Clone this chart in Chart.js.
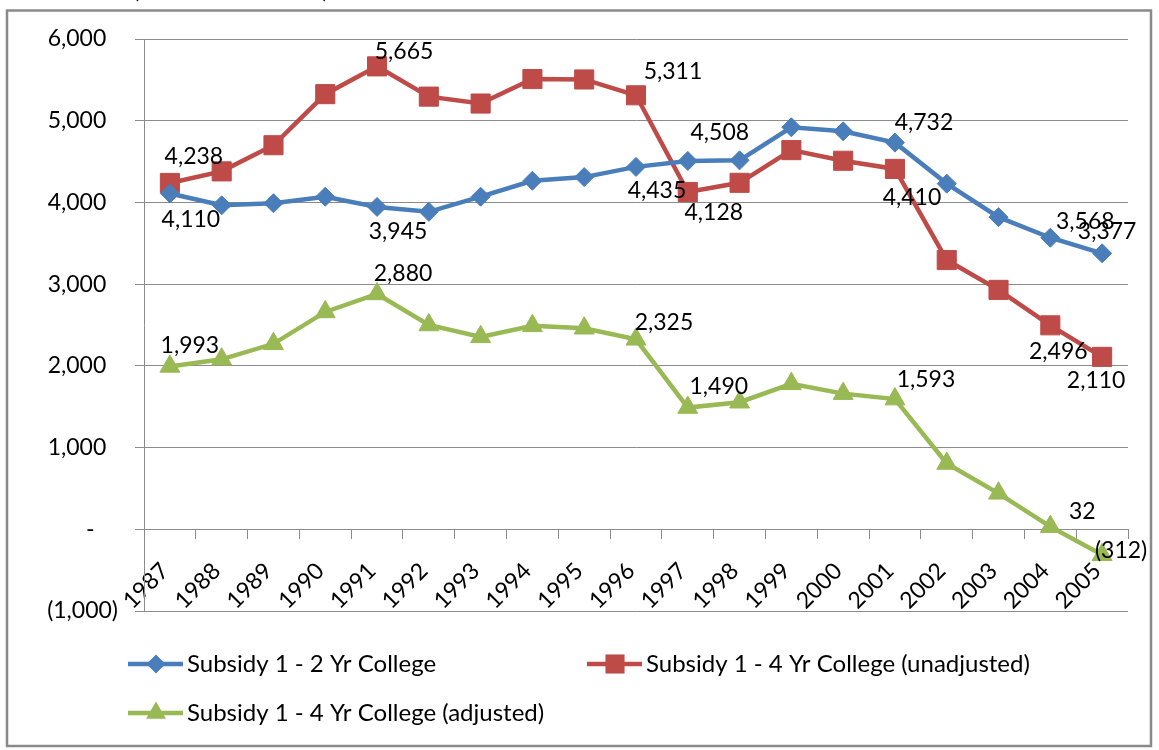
<!DOCTYPE html>
<html>
<head>
<meta charset="utf-8">
<script src="https://cdn.jsdelivr.net/npm/chart.js@4/dist/chart.umd.min.js"></script>
<style>
html,body{margin:0;padding:0;background:#fff;overflow:hidden}
canvas{display:block}
</style>
</head>
<body>
<canvas id="c" width="1159" height="750"></canvas>
<script>
// ---------- data ----------
const years = ['1987','1988','1989','1990','1991','1992','1993','1994','1995','1996','1997','1998','1999','2000','2001','2002','2003','2004','2005'];
const subsidy2Yr = [4110,3965,3990,4070,3945,3885,4070,4265,4310,4435,4508,4515,4920,4870,4732,4230,3820,3568,3377];
const subsidy4YrUnadj = [4238,4380,4700,5325,5665,5295,5210,5510,5505,5311,4128,4240,4640,4510,4410,3295,2930,2496,2110];
const subsidy4YrAdj = [1993,2080,2270,2660,2880,2500,2355,2490,2460,2325,1490,1555,1780,1660,1593,805,440,32,-312];
const seriesNames = ['Subsidy 1 - 2 Yr College','Subsidy 1 - 4 Yr College (unadjusted)','Subsidy 1 - 4 Yr College (adjusted)'];
const yMin = -1000, yMax = 6000, yStep = 1000;
const labeledIdx = [0,4,9,10,14,17,18];
const titleText = '(in constant dollars)';

// ---------- styles ----------
const FONT = 'Lato';
const BLUE = '#4A7EBB', RED = '#BE4B48', GREEN = '#98B954';
const GRID = '#8c8c8c';
const labelOffsets = [
  [[21,26],[21,25],[21,24],[32,-28],[29,-20],[35,-16],[5,-22]],
  [[24,-26],[27,-15],[37,-24],[26,21],[17,29],[8,26],[-6,24]],
  [[20,-21],[26,-20],[28,-17],[31,-21],[31,-20],[32,-15],[19,-4]]
];
const legendPos = [[128,664],[587,664],[128,713]];

const fmtNum = v => Math.abs(v).toLocaleString('en-US');
const fmtLabel = v => v < 0 ? '(' + fmtNum(v) + ')' : fmtNum(v);

function drawMarker(ctx, style, x, y, r) {
  ctx.beginPath();
  if (style === 'rectRot') {
    ctx.moveTo(x, y - r); ctx.lineTo(x + r, y); ctx.lineTo(x, y + r); ctx.lineTo(x - r, y);
  } else if (style === 'rect') {
    const s = r * Math.SQRT1_2;
    ctx.rect(x - s, y - s, 2 * s, 2 * s);
  } else {
    const a = 2 * Math.PI / 3;
    ctx.moveTo(x, y - r);
    ctx.lineTo(x + Math.sin(a) * r, y - Math.cos(a) * r);
    ctx.lineTo(x + Math.sin(2 * a) * r, y - Math.cos(2 * a) * r);
  }
  ctx.closePath();
  ctx.fill();
}

const decor = {
  id: 'decor',
  beforeDraw(chart) {
    const ctx = chart.ctx;
    ctx.save();
    ctx.fillStyle = '#fff';
    ctx.fillRect(0, 0, chart.width, chart.height);
    ctx.strokeStyle = '#8a8a8a';
    ctx.lineWidth = 2.5;
    ctx.strokeRect(7, 10.5, 1144, 735.5);
    ctx.fillStyle = '#000';
    ctx.font = '23px ' + FONT;
    ctx.textAlign = 'left';
    ctx.textBaseline = 'alphabetic';
    ctx.fillText(titleText, 133, -2);
    ctx.restore();
  },
  afterDatasetsDraw(chart) {
    const ctx = chart.ctx;
    ctx.save();
    ctx.font = '23px ' + FONT;
    ctx.fillStyle = '#000';
    ctx.textAlign = 'center';
    ctx.textBaseline = 'middle';
    chart.data.datasets.forEach((ds, di) => {
      const meta = chart.getDatasetMeta(di);
      labeledIdx.forEach((idx, k) => {
        const el = meta.data[idx];
        const off = labelOffsets[di][k];
        ctx.fillText(fmtLabel(ds.data[idx]), el.x + off[0], el.y + off[1]);
      });
    });
    ctx.restore();
  },
  afterDraw(chart) {
    const ctx = chart.ctx;
    ctx.save();
    ctx.font = '24px ' + FONT;
    ctx.textAlign = 'left';
    ctx.textBaseline = 'middle';
    chart.data.datasets.forEach((ds, di) => {
      const [x, y] = legendPos[di];
      ctx.strokeStyle = ds.borderColor;
      ctx.lineWidth = ds.borderWidth;
      ctx.beginPath();
      ctx.moveTo(x, y); ctx.lineTo(x + 55, y);
      ctx.stroke();
      ctx.fillStyle = ds.borderColor;
      drawMarker(ctx, ds.pointStyle, x + 28, y, ds.pointRadius);
      ctx.fillStyle = '#000';
      ctx.fillText(ds.label, x + 59, y);
    });
    ctx.restore();
  }
};

function mkDataset(i, data, color, style, r) {
  return {
    label: seriesNames[i], data: data,
    borderColor: color, backgroundColor: color,
    pointBackgroundColor: color, pointBorderColor: color,
    pointStyle: style, pointRadius: r, pointHoverRadius: r, pointBorderWidth: 1,
    borderWidth: 4.5, tension: 0, fill: false
  };
}

new Chart(document.getElementById('c'), {
  type: 'line',
  data: {
    labels: years,
    datasets: [
      mkDataset(0, subsidy2Yr, BLUE, 'rectRot', 9.5),
      mkDataset(1, subsidy4YrUnadj, RED, 'rect', 13.5),
      mkDataset(2, subsidy4YrAdj, GREEN, 'triangle', 11.5)
    ]
  },
  options: {
    responsive: false,
    animation: false,
    events: [],
    layout: { padding: { left: 0, top: 39, right: 31, bottom: 139 } },
    plugins: { legend: { display: false }, tooltip: { enabled: false }, title: { display: false } },
    scales: {
      x: {
        type: 'category',
        position: { y: 0 },
        offset: true,
        grid: { drawOnChartArea: false, drawTicks: true, tickLength: 9, color: GRID, lineWidth: 1, offset: true },
        border: { display: true, color: GRID, width: 1 },
        ticks: { autoSkip: false, minRotation: 45, maxRotation: 45, padding: 19, labelOffset: -5,
                 font: { family: FONT, size: 23 }, color: '#000' }
      },
      y: {
        min: yMin, max: yMax,
        grid: { color: GRID, lineWidth: 1, tickLength: 9, drawTicks: true },
        border: { display: true, color: GRID, width: 1 },
        ticks: {
          stepSize: yStep, padding: 17, color: '#000',
          font: { family: FONT, size: 23 },
          callback: v => v === 0 ? '-    ' : (v < 0 ? '(' + fmtNum(v) + ')' : fmtNum(v) + '  ')
        },
        afterFit(s) { s.width = 144; }
      }
    }
  },
  plugins: [decor]
});
</script>
</body>
</html>
